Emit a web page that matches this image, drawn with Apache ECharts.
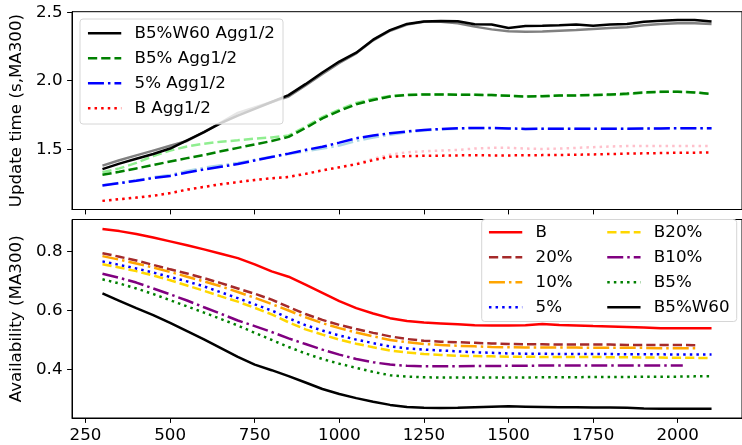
<!DOCTYPE html>
<html>
<head>
<meta charset="utf-8">
<script src="https://cdn.jsdelivr.net/npm/echarts@6/dist/echarts.min.js"></script>
<style>
  html, body { margin: 0; padding: 0; background: #fff; }
  #chart { width: 742px; height: 445px; }
</style>
</head>
<body>
<div id="chart"></div>
<script>
// Sample positions (elapsed time), shared by both panels
const xs = [300, 350, 400, 450, 500, 550, 600, 650, 700, 750, 800, 850,
            900, 950, 1000, 1050, 1100, 1150, 1200, 1250, 1300, 1350, 1400, 1450,
            1500, 1550, 1600, 1650, 1700, 1750, 1800, 1850, 1900, 1950, 2000, 2050,
            2100];
// Two shorter runs stop a little earlier
const xsTo2060 = xs.slice(0, 36).concat([2060]);
const xsTo2015 = xs.slice(0, 35).concat([2015]);

const xTicks = [250, 500, 750, 1000, 1250, 1500, 1750, 2000];
const updateTicks = [1.5, 2.0, 2.5];
const availTicks = [0.4, 0.6, 0.8];

// Update time (s, MA300) — Agg1 (dark) and Agg2 (light) for each setup
const updB5W60 = [1.355, 1.395, 1.43, 1.465, 1.505, 1.565, 1.625, 1.69, 1.745, 1.795, 1.845, 1.895,
                  1.975, 2.06, 2.14, 2.205, 2.3, 2.37, 2.415, 2.432, 2.436, 2.434, 2.412, 2.41,
                  2.385, 2.4, 2.402, 2.405, 2.41, 2.402, 2.41, 2.415, 2.43, 2.438, 2.444, 2.444,
                  2.432];
const updB5W60Agg2 = [1.38, 1.42, 1.455, 1.49, 1.525, 1.56, 1.625, 1.695, 1.765, 1.805, 1.845, 1.885,
                      1.965, 2.05, 2.13, 2.2, 2.295, 2.365, 2.41, 2.43, 2.43, 2.42, 2.395, 2.375,
                      2.362, 2.358, 2.36, 2.365, 2.37, 2.378, 2.385, 2.39, 2.405, 2.415, 2.42, 2.42,
                      2.415];
const updB5 = [1.313, 1.335, 1.36, 1.385, 1.41, 1.435, 1.458, 1.485, 1.51, 1.535, 1.56, 1.59,
               1.655, 1.725, 1.78, 1.828, 1.86, 1.885, 1.895, 1.9, 1.9, 1.898, 1.897, 1.895,
               1.89, 1.885, 1.887, 1.892, 1.893, 1.896, 1.9, 1.906, 1.915, 1.92, 1.92, 1.915,
               1.903];
const updB5Agg2 = [1.332, 1.36, 1.4, 1.45, 1.49, 1.52, 1.54, 1.555, 1.565, 1.578, 1.586, 1.6,
                   1.665, 1.735, 1.79, 1.838, 1.868, 1.888, 1.897, 1.9, 1.9, 1.898, 1.897, 1.895,
                   1.89, 1.886, 1.888, 1.892, 1.893, 1.894, 1.896, 1.9, 1.912, 1.918, 1.92, 1.915,
                   1.903];
const upd5 = [1.235, 1.252, 1.27, 1.29, 1.305, 1.33, 1.352, 1.372, 1.392, 1.418, 1.443, 1.468,
              1.495, 1.518, 1.548, 1.58, 1.6, 1.617, 1.63, 1.641, 1.647, 1.653, 1.655, 1.655,
              1.652, 1.648, 1.65, 1.65, 1.65, 1.65, 1.65, 1.65, 1.651, 1.652, 1.653, 1.653,
              1.653];
const upd5Agg2 = [1.238, 1.255, 1.273, 1.295, 1.312, 1.342, 1.365, 1.383, 1.4, 1.423, 1.445, 1.465,
                  1.485, 1.505, 1.527, 1.56, 1.585, 1.605, 1.624, 1.637, 1.645, 1.65, 1.653, 1.654,
                  1.652, 1.648, 1.65, 1.65, 1.65, 1.65, 1.65, 1.65, 1.651, 1.652, 1.653, 1.653,
                  1.653];
const updB = [1.123, 1.135, 1.147, 1.16, 1.18, 1.205, 1.225, 1.245, 1.26, 1.275, 1.288, 1.298,
              1.32, 1.345, 1.368, 1.39, 1.42, 1.445, 1.45, 1.452, 1.453, 1.455, 1.456, 1.455,
              1.455, 1.456, 1.457, 1.458, 1.46, 1.462, 1.465, 1.468, 1.47, 1.472, 1.474, 1.475,
              1.476];
const updBAgg2 = [1.123, 1.135, 1.147, 1.16, 1.18, 1.205, 1.225, 1.245, 1.26, 1.275, 1.288, 1.298,
                  1.32, 1.345, 1.368, 1.395, 1.43, 1.46, 1.478, 1.485, 1.49, 1.495, 1.505, 1.51,
                  1.51, 1.505, 1.502, 1.505, 1.51, 1.515, 1.52, 1.523, 1.524, 1.524, 1.524, 1.524,
                  1.523];

// Availability (MA300)
const avB = [0.877, 0.87, 0.86, 0.848, 0.835, 0.822, 0.808, 0.793, 0.778, 0.757, 0.733, 0.715,
             0.688, 0.66, 0.632, 0.608, 0.59, 0.574, 0.564, 0.559, 0.556, 0.553, 0.55, 0.549,
             0.549, 0.55, 0.554, 0.551, 0.549, 0.547, 0.546, 0.544, 0.542, 0.54, 0.54, 0.54,
             0.54];
const av20 = [0.795, 0.783, 0.77, 0.755, 0.74, 0.726, 0.71, 0.693, 0.675, 0.657, 0.637, 0.612,
              0.588, 0.568, 0.551, 0.537, 0.524, 0.512, 0.503, 0.497, 0.494, 0.492, 0.49, 0.488,
              0.486, 0.485, 0.485, 0.484, 0.484, 0.484, 0.484, 0.483, 0.483, 0.483, 0.483, 0.482,
              0.482];
const av10 = [0.785, 0.773, 0.76, 0.746, 0.731, 0.715, 0.699, 0.682, 0.663, 0.643, 0.622, 0.6,
              0.577, 0.557, 0.54, 0.525, 0.512, 0.5, 0.492, 0.486, 0.483, 0.48, 0.478, 0.476,
              0.475, 0.474, 0.474, 0.474, 0.474, 0.473, 0.473, 0.473, 0.473, 0.472, 0.472, 0.472,
              0.472];
const av5 = [0.767, 0.755, 0.743, 0.729, 0.714, 0.699, 0.682, 0.662, 0.642, 0.621, 0.6, 0.574,
             0.55, 0.532, 0.515, 0.501, 0.489, 0.478, 0.471, 0.467, 0.464, 0.461, 0.458, 0.456,
             0.454, 0.453, 0.453, 0.452, 0.452, 0.452, 0.452, 0.451, 0.451, 0.451, 0.45, 0.45,
             0.45];
const avB20 = [0.757, 0.746, 0.734, 0.719, 0.703, 0.685, 0.667, 0.648, 0.63, 0.609, 0.587, 0.56,
               0.536, 0.518, 0.501, 0.487, 0.475, 0.464, 0.457, 0.452, 0.449, 0.446, 0.445, 0.444,
               0.443, 0.443, 0.442, 0.442, 0.442, 0.442, 0.441, 0.441, 0.44, 0.44, 0.439, 0.439,
               0.438];
const avB10 = [0.725, 0.711, 0.695, 0.675, 0.655, 0.634, 0.611, 0.589, 0.566, 0.547, 0.527, 0.505,
               0.486, 0.467, 0.45, 0.435, 0.424, 0.416, 0.412, 0.41, 0.41, 0.41, 0.411, 0.411,
               0.412, 0.412, 0.413, 0.413, 0.413, 0.413, 0.413, 0.413, 0.413, 0.413, 0.413,
               0.413];
const avB5 = [0.706, 0.692, 0.675, 0.656, 0.635, 0.614, 0.593, 0.571, 0.549, 0.524, 0.5, 0.476,
              0.454, 0.435, 0.419, 0.405, 0.391, 0.38, 0.375, 0.373, 0.372, 0.372, 0.372, 0.372,
              0.372, 0.372, 0.373, 0.373, 0.373, 0.374, 0.374, 0.374, 0.375, 0.375, 0.375, 0.376,
              0.376];
const avB5W60 = [0.658, 0.633, 0.608, 0.584, 0.558, 0.53, 0.502, 0.472, 0.442, 0.416, 0.397, 0.377,
                 0.355, 0.333, 0.316, 0.302, 0.29, 0.279, 0.272, 0.269, 0.268, 0.269, 0.271, 0.273,
                 0.274, 0.273, 0.272, 0.271, 0.271, 0.27, 0.27, 0.269, 0.267, 0.266, 0.266, 0.266,
                 0.266];

const FONT = 'DejaVu Sans';
const FS = 16.7;
const LW = 2.5;
const SOLID = 'solid';
const DASHED = [9.25, 4];
const DASHDOT = [16, 4, 2.5, 4];
const DOTTED = [2.5, 4.1];

function line(name, ys, xsArr, color, dash, panel, z) {
  return {
    name: name,
    type: 'line',
    xAxisIndex: panel,
    yAxisIndex: panel,
    symbol: 'none',
    silent: true,
    z: z,
    data: ys.map((y, i) => [xsArr[i], y]),
    lineStyle: { color: color, width: LW, type: dash, cap: 'butt' },
    itemStyle: { color: color }
  };
}

function xAxis(panel, withLabels) {
  return {
    type: 'value',
    gridIndex: panel,
    min: 210,
    max: 2190,
    splitLine: { show: false },
    axisLine: { show: true, lineStyle: { color: '#000', width: 1 } },
    axisTick: { show: true, inside: false, length: 4.9, customValues: xTicks,
                lineStyle: { color: '#000', width: 1 } },
    axisLabel: { show: withLabels, customValues: xTicks, margin: 9,
                 fontFamily: FONT, fontSize: FS, color: '#000',
                 formatter: v => String(v) }
  };
}

function yAxis(panel, name, min, max, ticks) {
  return {
    type: 'value',
    gridIndex: panel,
    min: min,
    max: max,
    name: name,
    nameLocation: 'middle',
    nameRotate: 90,
    nameGap: 41,
    nameTextStyle: { fontFamily: FONT, fontSize: FS, color: '#000' },
    splitLine: { show: false },
    axisLine: { show: true, lineStyle: { color: '#000', width: 1 } },
    axisTick: { show: true, inside: false, length: 4.9, customValues: ticks,
                lineStyle: { color: '#000', width: 1 } },
    axisLabel: { customValues: ticks, margin: 9.5, fontFamily: FONT, fontSize: FS, color: '#000',
                 formatter: v => v.toFixed(1) }
  };
}

// Legend entries show only the line sample (no marker)
const legendCommon = {
  orient: 'vertical',
  padding: 0,
  itemGap: 8,
  itemWidth: 33.3,
  itemHeight: 14,
  selectedMode: false,
  z: 20,
  lineStyle: { width: LW },
  itemStyle: { opacity: 0 },
  textStyle: { fontFamily: FONT, fontSize: FS, color: '#000', lineHeight: 17, padding: [0, 0, 0, 8.3] }
};

const chart = echarts.init(document.getElementById('chart'), null, { renderer: 'canvas' });

chart.setOption({
  animation: false,
  backgroundColor: '#fff',
  grid: [
    { left: 72, right: -3, top: 11.7, height: 197.8, show: true, borderColor: '#000', borderWidth: 1 },
    { left: 72, right: -3, top: 219.5, height: 198.5, show: true, borderColor: '#000', borderWidth: 1 }
  ],
  xAxis: [xAxis(0, false), xAxis(1, true)],
  yAxis: [
    yAxis(0, 'Update time (s,MA300)', 1.06, 2.504, updateTicks),
    yAxis(1, 'Availability (MA300)', 0.2344, 0.9095, availTicks)
  ],
  legend: [
    Object.assign({}, legendCommon, { left: 86.7, top: 24.8,
      data: ['B5%W60 Agg1/2', 'B5% Agg1/2', '5% Agg1/2', 'B Agg1/2'] }),
    Object.assign({}, legendCommon, { left: 487.7, top: 223.8,
      data: ['B', '20%', '10%', '5%'] }),
    Object.assign({}, legendCommon, { left: 606, top: 223.8,
      data: ['B20%', 'B10%', 'B5%', 'B5%W60'] })
  ],
  graphic: [
    { type: 'rect', z: 10, silent: true,
      shape: { x: 80, y: 19, width: 203, height: 105, r: 3 },
      style: { fill: 'rgba(255,255,255,0.8)', stroke: '#d6d6d6', lineWidth: 1 } },
    { type: 'rect', z: 10, silent: true,
      shape: { x: 481.7, y: 219.5, width: 255, height: 102, r: 3 },
      style: { fill: 'rgba(255,255,255,0.8)', stroke: '#d6d6d6', lineWidth: 1 } }
  ],
  series: [
    // update time: lighter Agg2 traces underneath
    line('B5%W60 Agg2', updB5W60Agg2, xs, '#808080', SOLID, 0, 2),
    line('B5% Agg2', updB5Agg2, xs, '#90ee90', DASHED, 0, 2),
    line('5% Agg2', upd5Agg2, xs, '#add8e6', DASHDOT, 0, 2),
    line('B Agg2', updBAgg2, xs, '#ffc0cb', DOTTED, 0, 2),
    line('B5%W60 Agg1/2', updB5W60, xs, '#000000', SOLID, 0, 3),
    line('B5% Agg1/2', updB5, xs, '#008000', DASHED, 0, 3),
    line('5% Agg1/2', upd5, xs, '#0000ff', DASHDOT, 0, 3),
    line('B Agg1/2', updB, xs, '#ff0000', DOTTED, 0, 3),
    // availability
    line('B', avB, xs, '#ff0000', SOLID, 1, 3),
    line('20%', av20, xsTo2060, '#a52a2a', DASHED, 1, 3),
    line('10%', av10, xsTo2060, '#ffa500', DASHDOT, 1, 3),
    line('5%', av5, xs, '#0000ff', DOTTED, 1, 3),
    line('B20%', avB20, xs, '#ffd700', DASHED, 1, 3),
    line('B10%', avB10, xsTo2015, '#800080', DASHDOT, 1, 3),
    line('B5%', avB5, xs, '#008000', DOTTED, 1, 3),
    line('B5%W60', avB5W60, xs, '#000000', SOLID, 1, 3)
  ]
});
</script>
</body>
</html>
